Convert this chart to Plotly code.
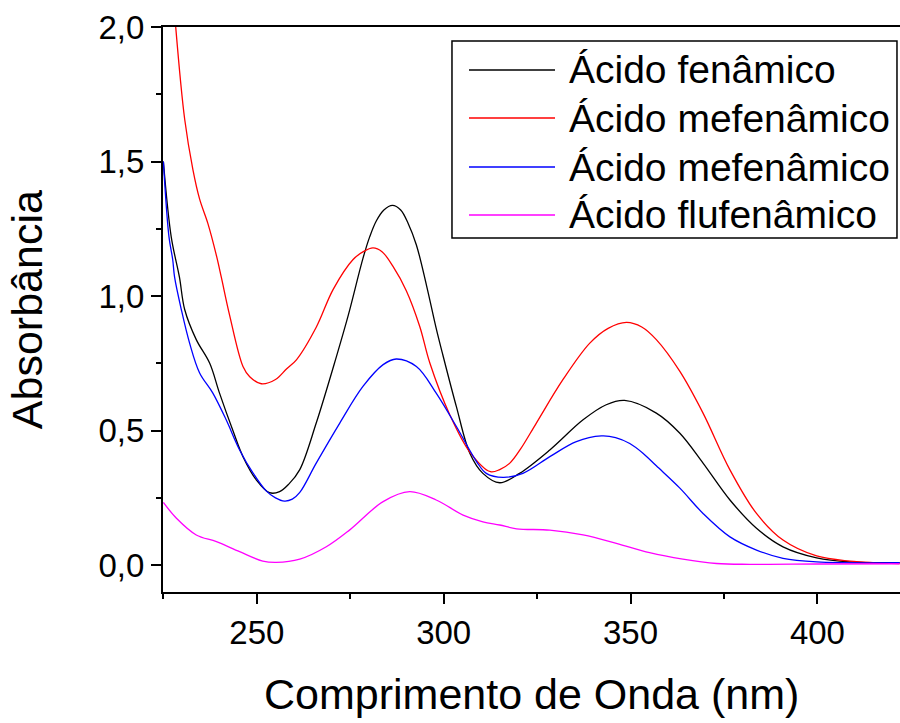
import plotly.graph_objects as go

# ---- data ----
fen_x = [225, 227.1, 229.3, 230.7, 233.8, 237.4, 240, 243.6, 246.3, 249.9, 253.4, 256.1, 258.5, 261.5,
         265.9, 271.3, 274.5, 278.4, 280.2, 282, 284, 286.3, 288.5, 290.5, 292.7, 295.4, 298, 299.8,
         303.4, 307, 310.5, 315, 320.3, 328.4, 337.3, 343.5, 348.4, 356.9, 363.2, 369.4, 376.6,
         383.7, 390.8, 399.8, 408.7, 422]
fen_y = [1.50, 1.22, 1.07, 0.95, 0.838, 0.75, 0.64, 0.50, 0.403, 0.316, 0.269, 0.273, 0.30, 0.355,
         0.528, 0.775, 0.93, 1.14, 1.22, 1.28, 1.32, 1.337, 1.32, 1.27, 1.19, 1.04, 0.88, 0.78,
         0.589, 0.416, 0.341, 0.306, 0.341, 0.428, 0.54, 0.596, 0.612, 0.565, 0.49, 0.379, 0.242,
         0.137, 0.068, 0.027, 0.012, 0.009]

mef1_x = [228.3, 230.7, 232.9, 234.7, 236.9, 239.2, 240.5, 242.7, 246.3, 248.1, 251.2, 255, 258, 260.6,
          265.9, 270.4, 275.7, 278.5, 281.1, 283.5, 286.4, 290, 293.6, 296.3, 301.6, 307, 312.5, 315,
          317.7, 320.5, 324.8, 331.9, 339.1, 344, 348.9, 353, 356.9, 363.2, 369.4, 376.6, 383.7, 390.8,
          399.8, 408.7, 422]
mef1_y = [2.0, 1.657, 1.47, 1.36, 1.27, 1.15, 1.07, 0.93, 0.738, 0.70, 0.674, 0.69, 0.73, 0.763,
          0.884, 1.024, 1.135, 1.165, 1.179, 1.165, 1.111, 1.02, 0.887, 0.751, 0.56, 0.42, 0.347, 0.355,
          0.379, 0.43, 0.528, 0.689, 0.825, 0.88, 0.902, 0.885, 0.838, 0.72, 0.565, 0.354, 0.192, 0.093,
          0.034, 0.015, 0.006]

mef2_x = [225, 226.5, 227.5, 228, 229.8, 232, 234.7, 238.2, 241.8, 245.4, 249, 252.5, 255, 257.4,
          259.5, 261.5, 265.9, 272.2, 278.4, 283.8, 287.3, 292.7, 298, 303.4, 308.8, 311.4, 315.9,
          321.2, 328.4, 335.5, 342.2, 346, 349.8, 353.4, 356.9, 363.2, 369.4, 376.6, 383.7, 390.8,
          399.8, 422]
mef2_y = [1.50, 1.22, 1.135, 1.07, 0.95, 0.826, 0.714, 0.64, 0.54, 0.428, 0.342, 0.276, 0.25, 0.238,
          0.245, 0.27, 0.379, 0.528, 0.664, 0.745, 0.766, 0.738, 0.639, 0.515, 0.385, 0.341, 0.326,
          0.341, 0.403, 0.459, 0.48, 0.474, 0.452, 0.415, 0.369, 0.286, 0.192, 0.105, 0.056, 0.025,
          0.012, 0.009]

fluf_x = [225, 228.5, 233.8, 239.2, 245.4, 251.6, 255.2, 261.5, 268.6, 274.8, 283.8, 290.9, 298,
          305.2, 310.5, 315, 319.5, 328.4, 337.3, 346.2, 355.1, 364, 373, 381.9, 400, 422]
fluf_y = [0.233, 0.174, 0.112, 0.087, 0.05, 0.015, 0.010, 0.022, 0.068, 0.13, 0.236, 0.273, 0.242,
          0.186, 0.161, 0.149, 0.135, 0.13, 0.112, 0.081, 0.046, 0.022, 0.006, 0.003, 0.004, 0.005]

names = ["Ácido fenâmico", "Ácido mefenâmico", "Ácido mefenâmico", "Ácido flufenâmico"]
colors = ["#000000", "#ff0000", "#0000ff", "#ff00ff"]
x_ticks = [250, 300, 350, 400]
y_ticks = [0.0, 0.5, 1.0, 1.5, 2.0]

FONT = "Liberation Sans, Arial, sans-serif"

fig = go.Figure()
for xs, ys, nm, c in zip([fen_x, mef1_x, mef2_x, fluf_x], [fen_y, mef1_y, mef2_y, fluf_y], names, colors):
    fig.add_trace(go.Scatter(x=xs, y=ys, name=nm, mode="lines", showlegend=False,
                             line=dict(color=c, width=1.3, shape="spline", smoothing=1.0)))

# ---- legend drawn in paper coordinates ----
leg_x0, leg_x1, leg_y0, leg_y1 = 0.3921, 0.9959, 0.6265, 0.9752
line_x0, line_x1, text_x = 0.4152, 0.5319, 0.5482
row_y = [0.9239, 0.8389, 0.7522, 0.6673]

shapes = [dict(type="rect", xref="paper", yref="paper", x0=leg_x0, x1=leg_x1, y0=leg_y0, y1=leg_y1,
               line=dict(color="black", width=1.5), fillcolor="white", layer="above")]
annotations = []
for ry, nm, c in zip(row_y, names, colors):
    shapes.append(dict(type="line", xref="paper", yref="paper", x0=line_x0, x1=line_x1, y0=ry, y1=ry,
                       line=dict(color=c, width=1.5), layer="above"))
    annotations.append(dict(text=nm, xref="paper", yref="paper", x=text_x, y=ry, xanchor="left",
                            yanchor="middle", showarrow=False,
                            font=dict(size=39, family=FONT, color="black")))

annotations += [
    dict(text="Comprimento de Onda (nm)", xref="paper", yref="paper", x=0.5, y=-0.18,
         xanchor="center", yanchor="middle", showarrow=False,
         font=dict(size=43, family=FONT, color="black")),
    dict(text="Absorbância", xref="paper", yref="paper", x=-0.185, y=0.5,
         xanchor="center", yanchor="middle", textangle=-90, showarrow=False,
         font=dict(size=43, family=FONT, color="black")),
]

fig.update_layout(
    width=900, height=723,
    margin=dict(l=163, r=0, t=27, b=131),
    paper_bgcolor="white", plot_bgcolor="white",
    separators=",.",
    font=dict(family=FONT, color="black"),
    showlegend=False,
    shapes=shapes,
    annotations=annotations,
    xaxis=dict(range=[224.9, 422.1], tickvals=x_ticks, ticktext=[str(v) for v in x_ticks],
               showline=True, linecolor="black", linewidth=2, mirror=True,
               ticks="outside", ticklen=10, tickwidth=1.5, tickcolor="black",
               minor=dict(tickvals=[225, 275, 325, 375], ticks="outside", ticklen=5, tickwidth=1.5, tickcolor="black"),
               showgrid=False, zeroline=False,
               tickfont=dict(size=33, family=FONT, color="black")),
    yaxis=dict(range=[-0.1, 2.0], tickvals=y_ticks, tickformat=".1f",
               showline=True, linecolor="black", linewidth=2, mirror=False,
               ticks="outside", ticklen=10, tickwidth=1.5, tickcolor="black",
               minor=dict(tickvals=[0.25, 0.75, 1.25, 1.75], ticks="outside", ticklen=5, tickwidth=1.5, tickcolor="black"),
               showgrid=False, zeroline=False,
               tickfont=dict(size=33, family=FONT, color="black")),
)

fig.write_html("out.html")
